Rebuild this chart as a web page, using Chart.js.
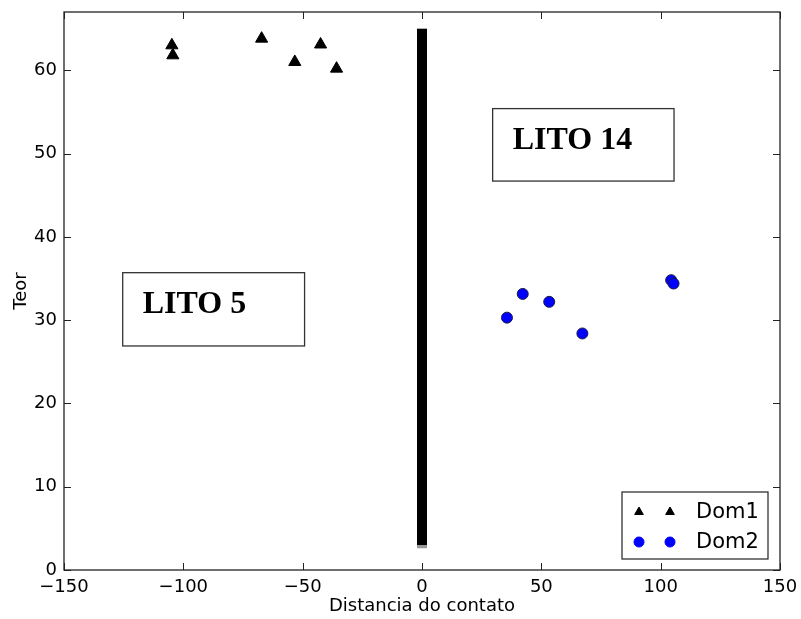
<!DOCTYPE html>
<html>
<head>
<meta charset="utf-8">
<script src="https://cdn.jsdelivr.net/npm/chart.js@4.4.1/dist/chart.umd.min.js"></script>
<style>
  html, body { margin: 0; padding: 0; background: #fff; }
  #wrap { width: 801px; height: 619px; }
</style>
</head>
<body>
<div id="wrap"><canvas id="chart" width="801" height="619"></canvas></div>
<script>
// Axis ticks
const xTickValues = [-150, -100, -50, 0, 50, 100, 150];
const yTickValues = [0, 10, 20, 30, 40, 50, 60];

// Dom1 (triangles)
const dom1X = [-104.8, -104.4, -67.2, -53.3, -42.5, -35.8];
const dom1Y = [63.0, 61.8, 63.8, 61.0, 63.1, 60.2];

// Dom2 (circles)
const dom2X = [35.6, 42.2, 53.3, 67.2, 104.4, 105.4];
const dom2Y = [30.3, 33.15, 32.2, 28.4, 34.8, 34.4];

// Contact line at x = 0
const contactX = [0, 0];
const contactY = [3, 65];
const contactShadowY = [2.6, 65];

// Text boxes (data units)
const boxLabels = ['LITO 5', 'LITO 14'];
const boxX = [[-125.4, -49.2], [29.6, 105.6]];
const boxY = [[26.9, 35.7], [46.7, 55.4]];
const boxTextX = [-117, 38];
const boxTextY = [30.9, 50.5];

const toPoints = (xs, ys) => xs.map((x, i) => ({ x: x, y: ys[i] }));

const tickFont = { family: 'DejaVu Sans', size: 18 };

// inside ticks on all four sides + frame
const frameTicks = {
  id: 'frameTicks',
  afterDraw(chart) {
    const { ctx, chartArea: a, scales } = chart;
    const len = 7;
    ctx.save();
    ctx.strokeStyle = '#222';
    ctx.lineWidth = 1;
    ctx.beginPath();
    xTickValues.forEach(v => {
      const px = Math.round(scales.x.getPixelForValue(v)) + 0.5;
      ctx.moveTo(px, a.bottom); ctx.lineTo(px, a.bottom - len);
      ctx.moveTo(px, a.top); ctx.lineTo(px, a.top + len);
    });
    yTickValues.forEach(v => {
      const py = Math.round(scales.y.getPixelForValue(v)) + 0.5;
      ctx.moveTo(a.left, py); ctx.lineTo(a.left + len, py);
      ctx.moveTo(a.right, py); ctx.lineTo(a.right - len, py);
    });
    ctx.stroke();
    ctx.lineWidth = 1.3;
    ctx.strokeRect(a.left, a.top, a.right - a.left, a.bottom - a.top);
    ctx.restore();
  }
};

// LITO boxes
const litoBoxes = {
  id: 'litoBoxes',
  afterDatasetsDraw(chart) {
    const { ctx, scales } = chart;
    ctx.save();
    boxLabels.forEach((label, i) => {
      const x0 = scales.x.getPixelForValue(boxX[i][0]);
      const x1 = scales.x.getPixelForValue(boxX[i][1]);
      const y0 = scales.y.getPixelForValue(boxY[i][1]);
      const y1 = scales.y.getPixelForValue(boxY[i][0]);
      ctx.fillStyle = '#fff';
      ctx.fillRect(x0, y0, x1 - x0, y1 - y0);
      ctx.strokeStyle = '#333';
      ctx.lineWidth = 1.3;
      ctx.strokeRect(x0, y0, x1 - x0, y1 - y0);
      ctx.fillStyle = '#000';
      ctx.font = 'bold 32px "Liberation Serif", "Times New Roman", serif';
      ctx.textBaseline = 'alphabetic';
      ctx.textAlign = 'left';
      ctx.fillText(label, scales.x.getPixelForValue(boxTextX[i]), scales.y.getPixelForValue(boxTextY[i]));
    });
    ctx.restore();
  }
};

// matplotlib-style legend (two markers per entry), lower right
const mplLegend = {
  id: 'mplLegend',
  afterDraw(chart) {
    const { ctx, chartArea: a } = chart;
    const w = 146, h = 67;
    const bx = a.right - 12 - w, by = a.bottom - 11 - h;
    ctx.save();
    ctx.fillStyle = '#fff';
    ctx.fillRect(bx, by, w, h);
    ctx.strokeStyle = '#222';
    ctx.lineWidth = 1.2;
    ctx.strokeRect(bx, by, w, h);
    const items = chart.data.datasets.filter(d => d.inLegend);
    items.forEach((ds, i) => {
      const cy = by + 20 + i * 30;
      [bx + 17, bx + 48].forEach(mx => {
        ctx.fillStyle = ds.backgroundColor;
        ctx.strokeStyle = ds.backgroundColor;
        ctx.lineWidth = 1;
        Chart.helpers.drawPoint(ctx, { pointStyle: ds.pointStyle, radius: 5, borderWidth: 1 }, mx, cy);
      });
      ctx.fillStyle = '#000';
      ctx.font = '21px "DejaVu Sans"';
      ctx.textBaseline = 'middle';
      ctx.textAlign = 'left';
      ctx.fillText(ds.label, bx + 74, cy + 1);
    });
    ctx.restore();
  }
};

new Chart(document.getElementById('chart'), {
  type: 'scatter',
  data: {
    datasets: [
      {
        label: 'contact shadow',
        data: toPoints(contactX, contactShadowY),
        showLine: true,
        borderColor: '#999',
        borderWidth: 10,
        pointRadius: 0,
        order: 4
      },
      {
        label: 'contact',
        data: toPoints(contactX, contactY),
        showLine: true,
        borderColor: '#000',
        borderWidth: 10,
        pointRadius: 0,
        order: 3
      },
      {
        label: 'Dom1',
        inLegend: true,
        data: toPoints(dom1X, dom1Y),
        pointStyle: 'triangle',
        pointRadius: 7,
        backgroundColor: '#000',
        borderColor: '#000',
        borderWidth: 1,
        order: 1
      },
      {
        label: 'Dom2',
        inLegend: true,
        data: toPoints(dom2X, dom2Y),
        pointStyle: 'circle',
        pointRadius: 5.5,
        backgroundColor: '#0000ff',
        borderColor: '#1a1a40',
        borderWidth: 1,
        order: 2
      }
    ]
  },
  options: {
    responsive: false,
    animation: false,
    layout: { padding: { left: 0, right: 21, top: 12, bottom: 0 } },
    plugins: {
      legend: { display: false },
      tooltip: { enabled: false }
    },
    scales: {
      x: {
        type: 'linear',
        min: -150,
        max: 150,
        afterBuildTicks: s => { s.ticks = xTickValues.map(v => ({ value: v })); },
        afterFit: s => { s.height = 49; s.paddingLeft = 0; s.paddingRight = 0; },
        grid: { display: false, drawTicks: false },
        border: { display: false },
        ticks: {
          autoSkip: false,
          maxRotation: 0,
          padding: 7,
          color: '#000',
          font: tickFont,
          callback: v => String(v).replace('-', '\u2212')
        },
        title: {
          display: true,
          text: 'Distancia do contato',
          color: '#000',
          font: tickFont,
          padding: { top: 0, bottom: 2 }
        }
      },
      y: {
        type: 'linear',
        min: 0,
        max: 67,
        afterBuildTicks: s => { s.ticks = yTickValues.map(v => ({ value: v })); },
        afterFit: s => { s.width = 64; s.paddingTop = 0; s.paddingBottom = 0; },
        grid: { display: false, drawTicks: false },
        border: { display: false },
        ticks: {
          autoSkip: false,
          padding: 7,
          color: '#000',
          font: tickFont
        },
        title: {
          display: true,
          text: 'Teor',
          color: '#000',
          font: tickFont,
          padding: { top: 11, bottom: 0 }
        }
      }
    }
  },
  plugins: [litoBoxes, frameTicks, mplLegend]
});
</script>
</body>
</html>
